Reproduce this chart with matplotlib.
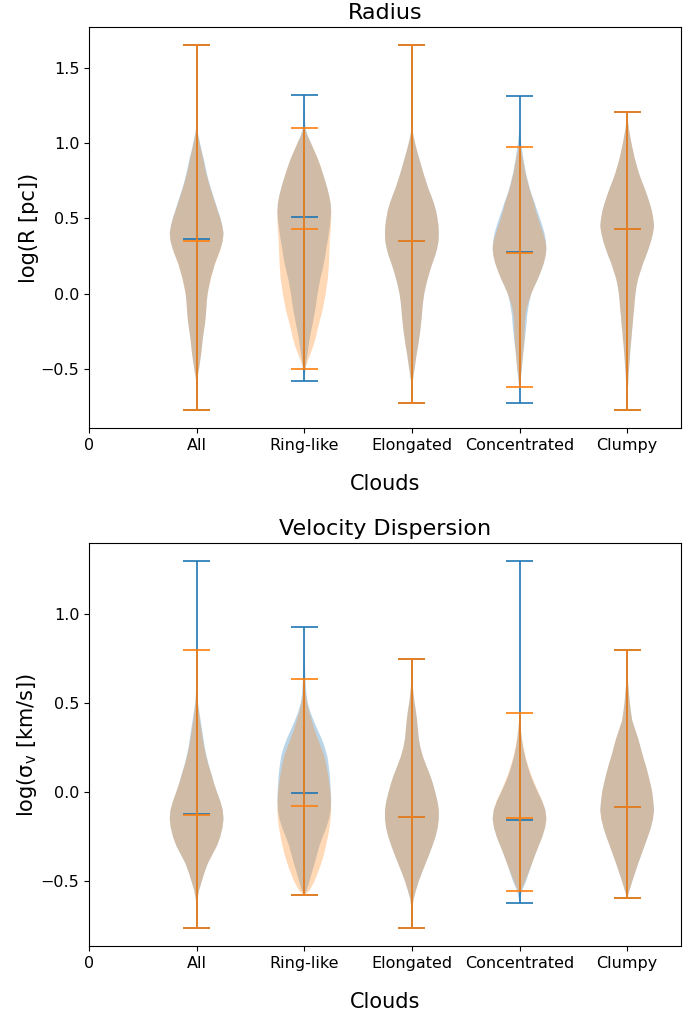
import numpy as np
import matplotlib.pyplot as plt

categories = ['All', 'Ring-like', 'Elongated', 'Concentrated', 'Clumpy']
positions = [1, 2, 3, 4, 5]

# ---- Radius: log(R [pc]) ----
# relative violin width, read every 0.05 from -0.7 to 1.3
r_levels = np.linspace(-0.7, 1.3, 41)
r_width_a = [
    [0, 0, 0.01, 0.04, 0.09, 0.13, 0.17, 0.20, 0.23, 0.27, 0.31, 0.34, 0.36, 0.38, 0.41, 0.46, 0.52, 0.60, 0.68, 0.79,
     0.89, 0.97, 1.0, 0.96, 0.89, 0.80, 0.71, 0.62, 0.53, 0.45, 0.38, 0.32, 0.26, 0.19, 0.13, 0.07, 0.02, 0, 0, 0, 0],
    [0, 0, 0, 0.02, 0.05, 0.08, 0.12, 0.16, 0.20, 0.25, 0.31, 0.36, 0.41, 0.45, 0.49, 0.54, 0.59, 0.66, 0.72, 0.77,
     0.81, 0.86, 0.90, 0.94, 0.97, 0.99, 0.97, 0.92, 0.85, 0.77, 0.68, 0.59, 0.49, 0.37, 0.25, 0.13, 0.05, 0.03, 0.03, 0.02, 0.01],
    [0, 0.01, 0.02, 0.06, 0.10, 0.14, 0.18, 0.23, 0.27, 0.31, 0.34, 0.37, 0.39, 0.42, 0.46, 0.52, 0.59, 0.67, 0.76, 0.86,
     0.94, 0.99, 1.0, 0.99, 0.95, 0.90, 0.82, 0.72, 0.61, 0.52, 0.43, 0.35, 0.27, 0.19, 0.12, 0.06, 0.01, 0, 0, 0, 0],
    [0, 0.01, 0.03, 0.06, 0.09, 0.11, 0.14, 0.17, 0.20, 0.23, 0.26, 0.28, 0.32, 0.37, 0.44, 0.56, 0.69, 0.80, 0.90, 0.97,
     1.0, 0.98, 0.93, 0.85, 0.76, 0.66, 0.57, 0.47, 0.38, 0.31, 0.24, 0.19, 0.14, 0.10, 0.06, 0.03, 0.01, 0, 0, 0, 0],
    [0.01, 0.02, 0.04, 0.05, 0.07, 0.09, 0.11, 0.13, 0.16, 0.18, 0.21, 0.23, 0.26, 0.28, 0.31, 0.35, 0.41, 0.50, 0.59, 0.70,
     0.80, 0.89, 0.96, 1.0, 0.97, 0.92, 0.84, 0.75, 0.65, 0.54, 0.44, 0.36, 0.28, 0.22, 0.16, 0.11, 0.06, 0.03, 0.01, 0, 0],
]
r_width_b = [
    [0, 0, 0.01, 0.04, 0.09, 0.13, 0.17, 0.20, 0.23, 0.27, 0.31, 0.34, 0.36, 0.38, 0.41, 0.47, 0.53, 0.61, 0.69, 0.80,
     0.90, 0.97, 1.0, 0.95, 0.88, 0.78, 0.69, 0.60, 0.51, 0.43, 0.35, 0.29, 0.24, 0.17, 0.11, 0.05, 0.01, 0, 0, 0, 0],
    [0, 0, 0, 0, 0.03, 0.12, 0.23, 0.33, 0.41, 0.47, 0.54, 0.61, 0.68, 0.73, 0.78, 0.82, 0.86, 0.88, 0.90, 0.91,
     0.92, 0.93, 0.95, 0.97, 0.98, 0.98, 0.96, 0.91, 0.84, 0.76, 0.68, 0.59, 0.49, 0.37, 0.25, 0.12, 0, 0, 0, 0, 0],
    [0, 0.01, 0.02, 0.06, 0.10, 0.14, 0.18, 0.23, 0.27, 0.31, 0.34, 0.37, 0.39, 0.42, 0.46, 0.52, 0.59, 0.67, 0.76, 0.86,
     0.94, 0.99, 1.0, 0.99, 0.95, 0.90, 0.82, 0.72, 0.61, 0.52, 0.43, 0.35, 0.27, 0.19, 0.12, 0.06, 0.01, 0, 0, 0, 0],
    [0, 0, 0.01, 0.04, 0.08, 0.11, 0.13, 0.16, 0.18, 0.19, 0.20, 0.22, 0.26, 0.34, 0.44, 0.56, 0.69, 0.80, 0.90, 0.97,
     1.0, 0.96, 0.88, 0.78, 0.69, 0.61, 0.54, 0.45, 0.36, 0.29, 0.22, 0.17, 0.12, 0.06, 0, 0, 0, 0, 0, 0, 0],
    [0.01, 0.02, 0.04, 0.05, 0.07, 0.09, 0.11, 0.13, 0.16, 0.18, 0.21, 0.23, 0.26, 0.28, 0.31, 0.35, 0.41, 0.50, 0.59, 0.70,
     0.80, 0.89, 0.96, 1.0, 0.97, 0.92, 0.84, 0.75, 0.65, 0.54, 0.44, 0.36, 0.28, 0.22, 0.16, 0.11, 0.06, 0.03, 0.01, 0, 0],
]
r_max_a = [1.653, 1.324, 1.653, 1.313, 1.209]
r_min_a = [-0.773, -0.580, -0.729, -0.731, -0.773]
r_med_a = [0.362, 0.509, 0.349, 0.278, 0.427]
r_max_b = [1.653, 1.102, 1.653, 0.976, 1.209]
r_min_b = [-0.773, -0.502, -0.729, -0.622, -0.773]
r_med_b = [0.349, 0.431, 0.349, 0.269, 0.427]

# ---- Velocity dispersion: log(sigma_v [km/s]) ----
# relative violin width, read every 0.05 from -0.7 to 0.9
v_levels = np.linspace(-0.7, 0.9, 33)
v_width_a = [
    [0, 0.01, 0.03, 0.09, 0.19, 0.29, 0.41, 0.58, 0.75, 0.87, 0.95, 0.99, 0.96, 0.87, 0.75, 0.64, 0.55,
     0.45, 0.37, 0.30, 0.25, 0.20, 0.15, 0.10, 0.05, 0.03, 0.01, 0, 0, 0, 0, 0, 0],
    [0, 0, 0, 0.09, 0.19, 0.28, 0.38, 0.47, 0.56, 0.68, 0.81, 0.91, 0.97, 0.99, 0.98, 0.96, 0.94,
     0.90, 0.85, 0.76, 0.64, 0.49, 0.35, 0.22, 0.13, 0.08, 0.06, 0.04, 0.03, 0.02, 0.01, 0.01, 0],
    [0, 0.02, 0.06, 0.15, 0.25, 0.37, 0.50, 0.63, 0.75, 0.86, 0.94, 0.98, 0.98, 0.93, 0.85, 0.76, 0.65,
     0.52, 0.40, 0.31, 0.25, 0.22, 0.19, 0.15, 0.10, 0.06, 0.03, 0.01, 0, 0, 0, 0, 0],
    [0, 0, 0.02, 0.10, 0.24, 0.35, 0.46, 0.58, 0.71, 0.84, 0.94, 0.99, 0.95, 0.83, 0.67, 0.52, 0.39,
     0.29, 0.20, 0.13, 0.08, 0.04, 0.01, 0, 0, 0, 0, 0, 0, 0, 0, 0, 0],
    [0, 0, 0, 0.09, 0.19, 0.30, 0.41, 0.53, 0.65, 0.77, 0.88, 0.96, 1.0, 0.97, 0.93, 0.86, 0.78,
     0.69, 0.59, 0.50, 0.41, 0.30, 0.19, 0.14, 0.10, 0.07, 0.04, 0.02, 0.01, 0, 0, 0, 0],
]
v_width_b = [
    [0, 0.01, 0.03, 0.09, 0.19, 0.29, 0.41, 0.58, 0.75, 0.87, 0.95, 0.99, 0.96, 0.87, 0.75, 0.64, 0.54,
     0.44, 0.35, 0.28, 0.22, 0.17, 0.12, 0.08, 0.04, 0.02, 0.01, 0, 0, 0, 0, 0, 0],
    [0, 0, 0, 0.20, 0.38, 0.51, 0.63, 0.73, 0.81, 0.88, 0.94, 0.98, 1.0, 0.99, 0.97, 0.93, 0.88,
     0.82, 0.75, 0.63, 0.50, 0.38, 0.28, 0.18, 0.10, 0.05, 0.01, 0, 0, 0, 0, 0, 0],
    [0, 0.02, 0.06, 0.15, 0.25, 0.37, 0.50, 0.63, 0.75, 0.86, 0.94, 0.98, 0.98, 0.93, 0.85, 0.76, 0.65,
     0.52, 0.40, 0.31, 0.25, 0.22, 0.19, 0.15, 0.10, 0.06, 0.03, 0.01, 0, 0, 0, 0, 0],
    [0, 0, 0, 0.06, 0.20, 0.33, 0.46, 0.58, 0.71, 0.84, 0.94, 0.99, 0.95, 0.84, 0.69, 0.55, 0.42,
     0.31, 0.22, 0.15, 0.09, 0.05, 0.02, 0, 0, 0, 0, 0, 0, 0, 0, 0, 0],
    [0, 0, 0, 0.09, 0.19, 0.30, 0.41, 0.53, 0.65, 0.77, 0.88, 0.96, 1.0, 0.97, 0.93, 0.86, 0.78,
     0.69, 0.59, 0.50, 0.41, 0.30, 0.19, 0.14, 0.10, 0.07, 0.04, 0.02, 0.01, 0, 0, 0, 0],
]
v_max_a = [1.294, 0.923, 0.747, 1.294, 0.798]
v_min_a = [-0.760, -0.579, -0.760, -0.622, -0.594]
v_med_a = [-0.120, -0.007, -0.139, -0.155, -0.082]
v_max_b = [0.798, 0.635, 0.747, 0.442, 0.798]
v_min_b = [-0.760, -0.579, -0.760, -0.552, -0.594]
v_med_b = [-0.129, -0.075, -0.139, -0.144, -0.082]


def make_stats(levels, widths, mins, maxs, meds):
    levels = np.round(levels, 2)
    out = []
    for w, lo, hi, md in zip(widths, mins, maxs, meds):
        w = np.array(w, dtype=float)
        keep = (levels > lo) & (levels < hi)
        coords = np.r_[lo, levels[keep], hi]
        vals = np.r_[0.0, w[keep], 0.0]
        out.append({'coords': coords, 'vals': vals, 'mean': md,
                    'median': md, 'min': lo, 'max': hi})
    return out


def draw(ax, stats, color):
    parts = ax.violin(stats, positions=positions, widths=0.5,
                      showmedians=True, showextrema=True)
    for pc in parts['bodies']:
        pc.set_facecolor(color)
        pc.set_edgecolor('none')
        pc.set_alpha(0.3)
    for key in ['cbars', 'cmins', 'cmaxes', 'cmedians']:
        parts[key].set_color(color)
        parts[key].set_linewidth(1.2)


fig = plt.figure(figsize=(6.91, 10.17), dpi=100)
ax1 = fig.add_axes([0.1288, 0.5792, 0.8567, 0.3943])
ax2 = fig.add_axes([0.1288, 0.0698, 0.8567, 0.3963])

draw(ax1, make_stats(r_levels, r_width_a, r_min_a, r_max_a, r_med_a), '#1f77b4')
draw(ax1, make_stats(r_levels, r_width_b, r_min_b, r_max_b, r_med_b), '#ff7f0e')
draw(ax2, make_stats(v_levels, v_width_a, v_min_a, v_max_a, v_med_a), '#1f77b4')
draw(ax2, make_stats(v_levels, v_width_b, v_min_b, v_max_b, v_med_b), '#ff7f0e')

ax1.set_title('Radius', fontsize=16)
ax1.set_ylabel('log(R [pc])', fontsize=15, labelpad=1)
ax2.set_title('Velocity Dispersion', fontsize=16)
ax2.set_ylabel(r'log($\mathregular{\sigma_v}$ [km/s])', fontsize=15, labelpad=1)

for ax in [ax1, ax2]:
    ax.set_xlim(0, 5.5)
    ax.set_xticks(range(6))
    ax.set_xticklabels(['0'] + categories)
    ax.set_xlabel('Clouds', fontsize=15, labelpad=15)
    ax.tick_params(labelsize=11.5)

plt.savefig('out.png', dpi=100)
